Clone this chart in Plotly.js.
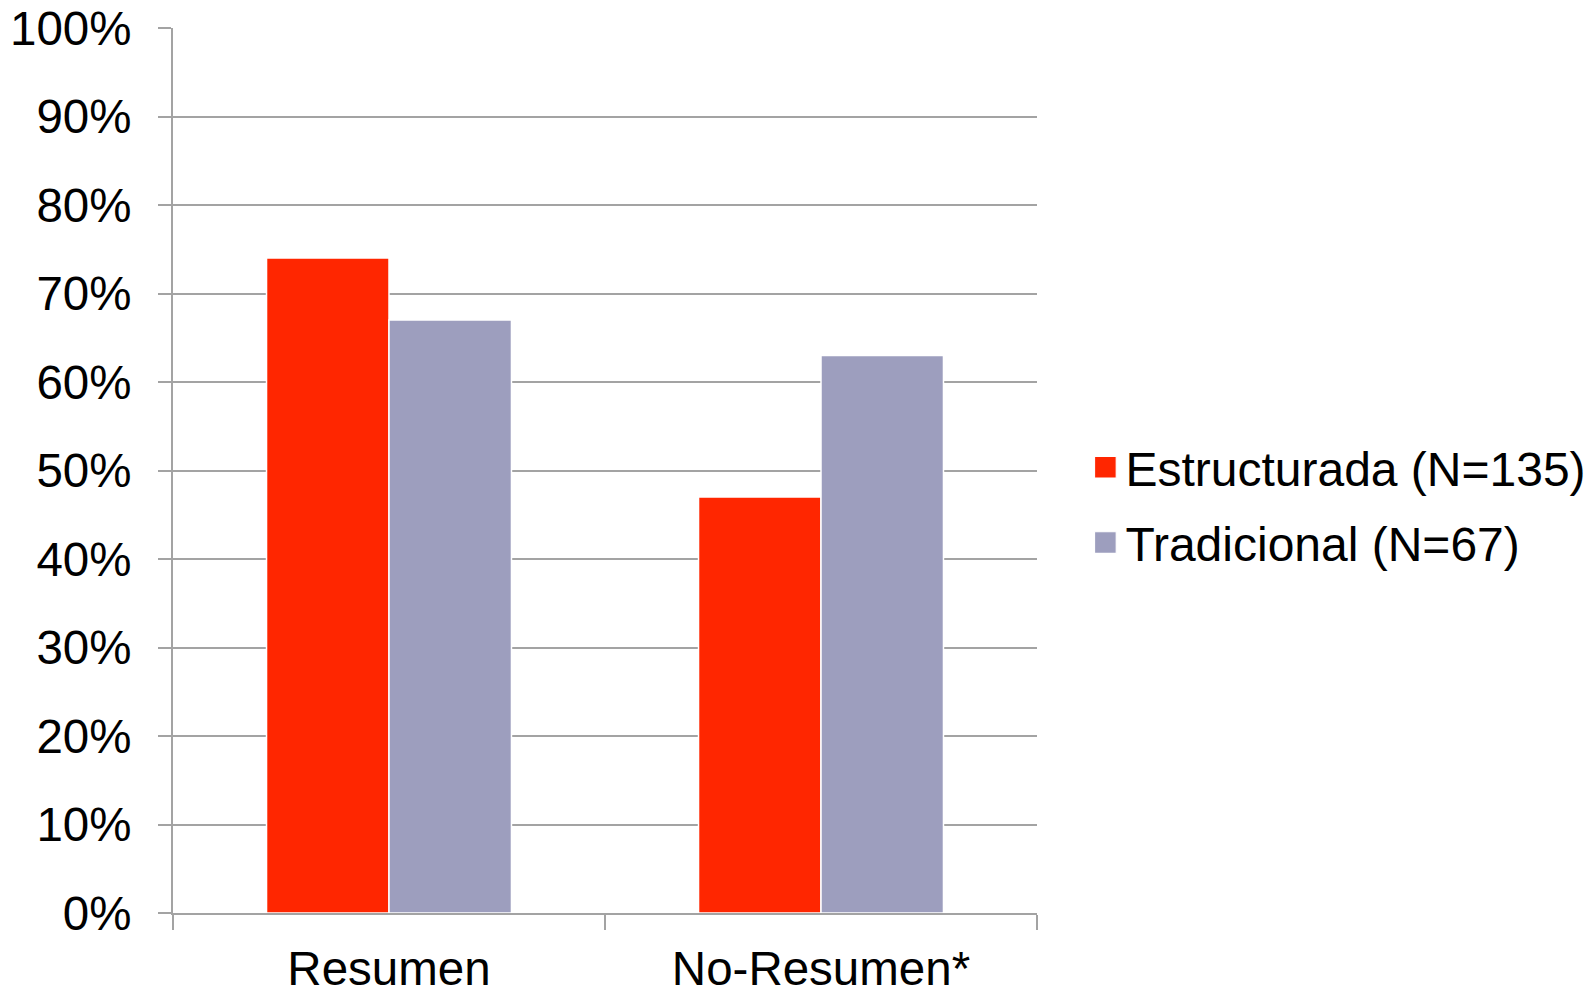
<!DOCTYPE html>
<html>
<head>
<meta charset="utf-8">
<script src="https://cdn.plot.ly/plotly-3.0.1.min.js"></script>
<style>html,body{margin:0;padding:0;background:#fff;}#chart{width:1594px;height:994px;}</style>
</head>
<body>
<div id="chart"></div>
<script>
const categories = ["Resumen", "No-Resumen*"];
const seriesNames = ["Estructurada (N=135)", "Tradicional (N=67)"];
const estructurada = [0.74, 0.47];
const tradicional = [0.67, 0.63];
const yTickVals = [0, 0.1, 0.2, 0.3, 0.4, 0.5, 0.6, 0.7, 0.8, 0.9, 1.0];
const yTickText = ["0%", "10%", "20%", "30%", "40%", "50%", "60%", "70%", "80%", "90%", "100%"];

const FONT = "Liberation Sans, Arial, Helvetica, sans-serif";
const gridColor = "#a3a3a3";

const traces = [
  {
    type: "bar", name: seriesNames[0], x: categories, y: estructurada,
    marker: {color: "#FF2600", line: {color: "#ffffff", width: 1.5}},
    legendgroup: "a", hoverinfo: "skip"
  },
  {
    type: "bar", name: seriesNames[1], x: categories, y: tradicional,
    marker: {color: "#9D9EBE", line: {color: "#ffffff", width: 1.5}},
    legendgroup: "b", hoverinfo: "skip"
  }
];

const layout = {
  width: 1594, height: 994,
  margin: {l: 173, r: 557, t: 28, b: 81, pad: 0, autoexpand: false},
  paper_bgcolor: "#ffffff", plot_bgcolor: "#ffffff",
  font: {family: FONT, color: "#000000", size: 47.5},
  barmode: "group", bargap: 0.433, bargroupgap: 0,
  showlegend: true,
  legend: {
    x: 1.056, xanchor: "left", y: 0.461, yanchor: "middle",
    font: {family: FONT, size: 48, color: "#000"},
    traceorder: "grouped", tracegroupgap: 10,
    bgcolor: "rgba(0,0,0,0)"
  },
  xaxis: {
    type: "category", automargin: false,
    showline: true, linecolor: gridColor, linewidth: 2,
    ticks: "outside", tickson: "boundaries", ticklen: 15, tickwidth: 2, tickcolor: gridColor,
    showgrid: false, zeroline: false,
    ticklabelstandoff: 13,
    tickfont: {family: FONT, size: 47.5, color: "#000"}
  },
  yaxis: {
    range: [0, 1], tickvals: yTickVals, ticktext: yTickText, automargin: false,
    showline: true, linecolor: gridColor, linewidth: 2,
    ticks: "outside", ticklen: 13, tickwidth: 2, tickcolor: gridColor,
    showgrid: true, gridcolor: gridColor, gridwidth: 2,
    zeroline: false,
    ticklabelstandoff: 17,
    tickfont: {family: FONT, size: 47.5, color: "#000"}
  }
};

Plotly.newPlot("chart", traces, layout, {displayModeBar: false, staticPlot: true}).then(function (gd) {
  // enlarge the legend colour swatches to match the reference's bigger squares
  gd.querySelectorAll(".legendpoints path").forEach(function (p) {
    const t = p.getAttribute("transform") || "";
    p.setAttribute("transform", t + " scale(1.8)");
    p.style.strokeWidth = "0.6px";
  });
});
</script>
</body>
</html>
